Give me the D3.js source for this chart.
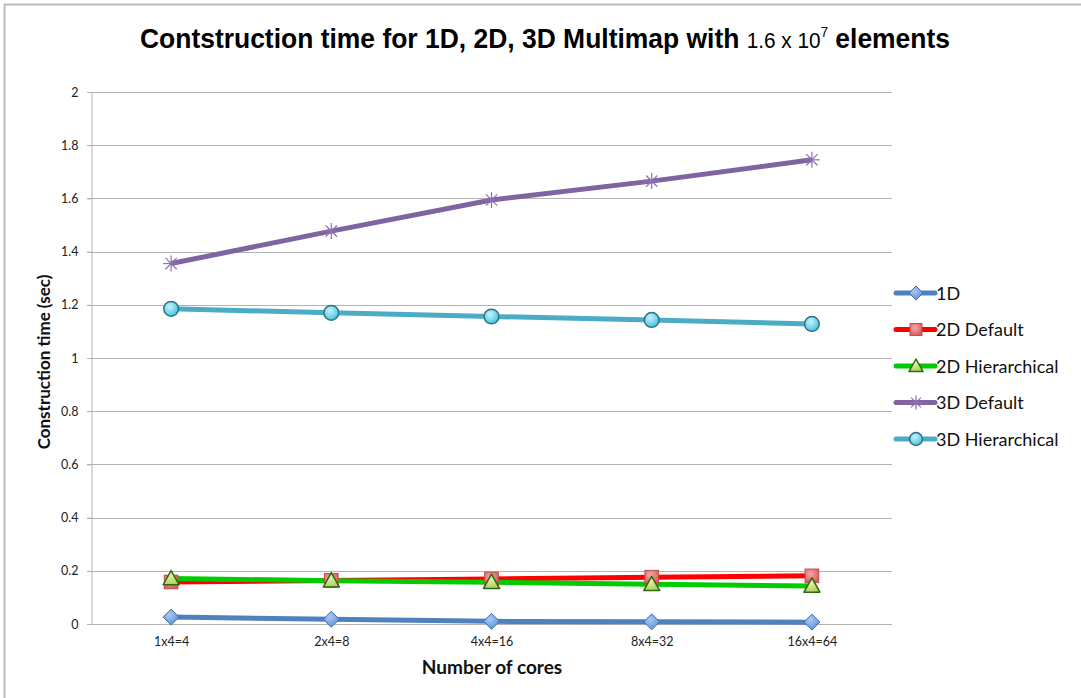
<!DOCTYPE html>
<html>
<head>
<meta charset="utf-8">
<script src="https://cdn.jsdelivr.net/npm/d3@7/dist/d3.min.js"></script>
<style>
  html, body { margin: 0; padding: 0; background: #fff; }
  svg { display: block; }
</style>
</head>
<body>
<svg id="chart" width="1081" height="698"></svg>
<script>
// Categories (cores) and construction times in seconds
const categories = ["1x4=4", "2x4=8", "4x4=16", "8x4=32", "16x4=64"];
const oneD = [0.026, 0.018, 0.010, 0.008, 0.007];
const twoDDefault = [0.158, 0.164, 0.169, 0.176, 0.181];
const twoDHier = [0.171, 0.163, 0.157, 0.149, 0.143];
const threeDDefault = [1.355, 1.477, 1.594, 1.665, 1.745];
const threeDHier = [1.185, 1.170, 1.156, 1.143, 1.128];
const yTicks = [0, 0.2, 0.4, 0.6, 0.8, 1, 1.2, 1.4, 1.6, 1.8, 2];

const seriesNames = ["1D", "2D Default", "2D Hierarchical", "3D Default", "3D Hierarchical"];
const seriesValues = [oneD, twoDDefault, twoDHier, threeDDefault, threeDHier];
const seriesStyle = [
  { line: "#4F81BD", marker: "diamond", fill: "url(#gBlue)", stroke: "#3f6fae" },
  { line: "#FF0000", marker: "square", fill: "url(#gRed)", stroke: "#c04a4a" },
  { line: "#00CC00", marker: "triangle", fill: "url(#gGreen)", stroke: "#2c6a12" },
  { line: "#8064A2", marker: "star", fill: "none", stroke: "#8c72b0" },
  { line: "#4BACC6", marker: "circle", fill: "url(#gCyan)", stroke: "#2e7488" }
];
const series = seriesNames.map((n, i) => ({ name: n, values: seriesValues[i], style: seriesStyle[i] }));

const svg = d3.select("#chart");
const W = 1081, H = 698;
const plot = { left: 91, right: 892, top: 92, bottom: 624 };
const bodyFont = "Lato, 'Open Sans', 'Liberation Sans', sans-serif";

// Gradients for glossy markers
const defs = svg.append("defs");
function grad(id, c1, c2) {
  const g = defs.append("radialGradient").attr("id", id)
    .attr("cx", "40%").attr("cy", "35%").attr("r", "70%");
  g.append("stop").attr("offset", "0%").attr("stop-color", c1);
  g.append("stop").attr("offset", "100%").attr("stop-color", c2);
}
grad("gBlue", "#a9c8f2", "#5b8fd6");
grad("gRed", "#f4a7a7", "#d95a5a");
grad("gGreen", "#e4f2a8", "#a8cf55");
grad("gCyan", "#c8f4fc", "#3fc0dc");

// Outer frame
svg.append("rect").attr("x", 4.5).attr("y", 4.5).attr("width", W + 20).attr("height", H + 20)
  .attr("fill", "none").attr("stroke", "#bcbcbc").attr("stroke-width", 2);

const x = d3.scalePoint().domain(categories).range([plot.left, plot.right]).padding(0.5);
const y = d3.scaleLinear().domain([0, 2]).range([plot.bottom, plot.top]);

// Gridlines
svg.append("g").selectAll("line").data(yTicks).join("line")
  .attr("x1", plot.left - 4).attr("x2", plot.right)
  .attr("y1", d => Math.round(y(d)) + 0.5).attr("y2", d => Math.round(y(d)) + 0.5)
  .attr("stroke", "#b3b3b3").attr("stroke-width", 1);

// Y axis
const yAxis = svg.append("g").attr("transform", `translate(${plot.left + 0.5},0)`)
  .call(d3.axisLeft(y).tickValues(yTicks).tickSize(4).tickPadding(9).tickFormat(d3.format("~g")));
yAxis.select(".domain").attr("stroke", "#b3b3b3");
yAxis.selectAll(".tick line").attr("stroke", "#b3b3b3");
yAxis.selectAll("text").style("font-size", "12.5px").style("font-family", bodyFont).attr("fill", "#222");

// X axis
const xAxis = svg.append("g").attr("transform", `translate(0,${Math.round(plot.bottom) + 0.5})`)
  .call(d3.axisBottom(x).tickSize(0).tickPadding(13));
xAxis.select(".domain").remove();
xAxis.selectAll("text").style("font-size", "12.5px").style("font-family", bodyFont).attr("fill", "#222");

// Lines
const line = d3.line().x((d, i) => x(categories[i])).y(d => y(d));
const lineOrder = [4, 3, 0, 1, 2];
svg.append("g").selectAll("path").data(lineOrder.map(i => series[i])).join("path")
  .attr("d", s => line(s.values))
  .attr("fill", "none").attr("stroke", s => s.style.line).attr("stroke-width", 5)
  .attr("stroke-linejoin", "round");

// Marker drawing
function drawMarker(g, type, fill, stroke, size) {
  const s = size;
  if (type === "diamond") {
    g.append("path").attr("d", `M0,${-s}L${s},0L0,${s}L${-s},0Z`)
      .attr("fill", fill).attr("stroke", stroke).attr("stroke-width", 1);
  } else if (type === "square") {
    const h = s * 0.85;
    g.append("rect").attr("x", -h).attr("y", -h).attr("width", 2 * h).attr("height", 2 * h)
      .attr("fill", fill).attr("stroke", stroke).attr("stroke-width", 1);
  } else if (type === "triangle") {
    g.append("path").attr("d", `M0,${-s}L${s},${s * 0.78}L${-s},${s * 0.78}Z`)
      .attr("fill", fill).attr("stroke", stroke).attr("stroke-width", 1.5).attr("stroke-linejoin", "round");
  } else if (type === "circle") {
    g.append("circle").attr("r", s * 0.92)
      .attr("fill", fill).attr("stroke", stroke).attr("stroke-width", 1.5);
  } else if (type === "star") {
    const r = s;
    const angs = [0, 45, 90, 135].map(a => a * Math.PI / 180);
    angs.forEach(a => {
      g.append("line")
        .attr("x1", -r * Math.cos(a)).attr("y1", -r * Math.sin(a))
        .attr("x2", r * Math.cos(a)).attr("y2", r * Math.sin(a))
        .attr("stroke", stroke).attr("stroke-width", 1.2);
    });
  }
}

const markerOrder = [4, 3, 0, 1, 2];
markerOrder.forEach(i => {
  const s = series[i];
  const g = svg.append("g");
  s.values.forEach((v, j) => {
    const mg = g.append("g").attr("transform", `translate(${x(categories[j])},${y(v)})`);
    drawMarker(mg, s.style.marker, s.style.fill, s.style.stroke, 8);
  });
});

// Legend
const legend = svg.append("g").attr("transform", "translate(896,293)");
series.forEach((s, i) => {
  const row = legend.append("g").attr("transform", `translate(0,${i * 36.5})`);
  row.append("line").attr("x1", 0).attr("x2", 39).attr("y1", 0).attr("y2", 0)
    .attr("stroke", s.style.line).attr("stroke-width", 5).attr("stroke-linecap", "round");
  const mg = row.append("g").attr("transform", "translate(20,0)");
  drawMarker(mg, s.style.marker, s.style.fill, s.style.stroke, 7);
  row.append("text").attr("x", 40).attr("y", 6.5)
    .style("font-size", "18px").style("font-family", bodyFont).attr("fill", "#111")
    .text(s.name);
});

// Title (condensed bold, with the element count in lighter type)
const title = svg.append("text").attr("x", 545).attr("y", 48).attr("text-anchor", "middle")
  .style("font-family", "'Liberation Sans Narrow', 'Arial Narrow', 'Liberation Sans', sans-serif")
  .style("font-weight", "bold").style("font-size", "28px").attr("fill", "#000")
  .attr("textLength", 810).attr("lengthAdjust", "spacingAndGlyphs");
title.append("tspan").text("Contstruction time for 1D, 2D, 3D Multimap with ");
title.append("tspan").style("font-weight", "normal").style("font-size", "22px").text("1.6 x 10");
title.append("tspan").style("font-weight", "normal").style("font-size", "14px").attr("dy", -11).text("7");
title.append("tspan").attr("dy", 11).text(" elements");

// Axis titles
svg.append("text").attr("x", 492).attr("y", 674).attr("text-anchor", "middle")
  .style("font-family", bodyFont).style("font-weight", "bold").style("font-size", "19px").attr("fill", "#111")
  .text("Number of cores");
svg.append("text").attr("transform", "translate(50,362) rotate(-90)").attr("text-anchor", "middle")
  .style("font-family", bodyFont).style("font-weight", "bold").style("font-size", "17px").attr("fill", "#111")
  .text("Construction time (sec)");
</script>
</body>
</html>
